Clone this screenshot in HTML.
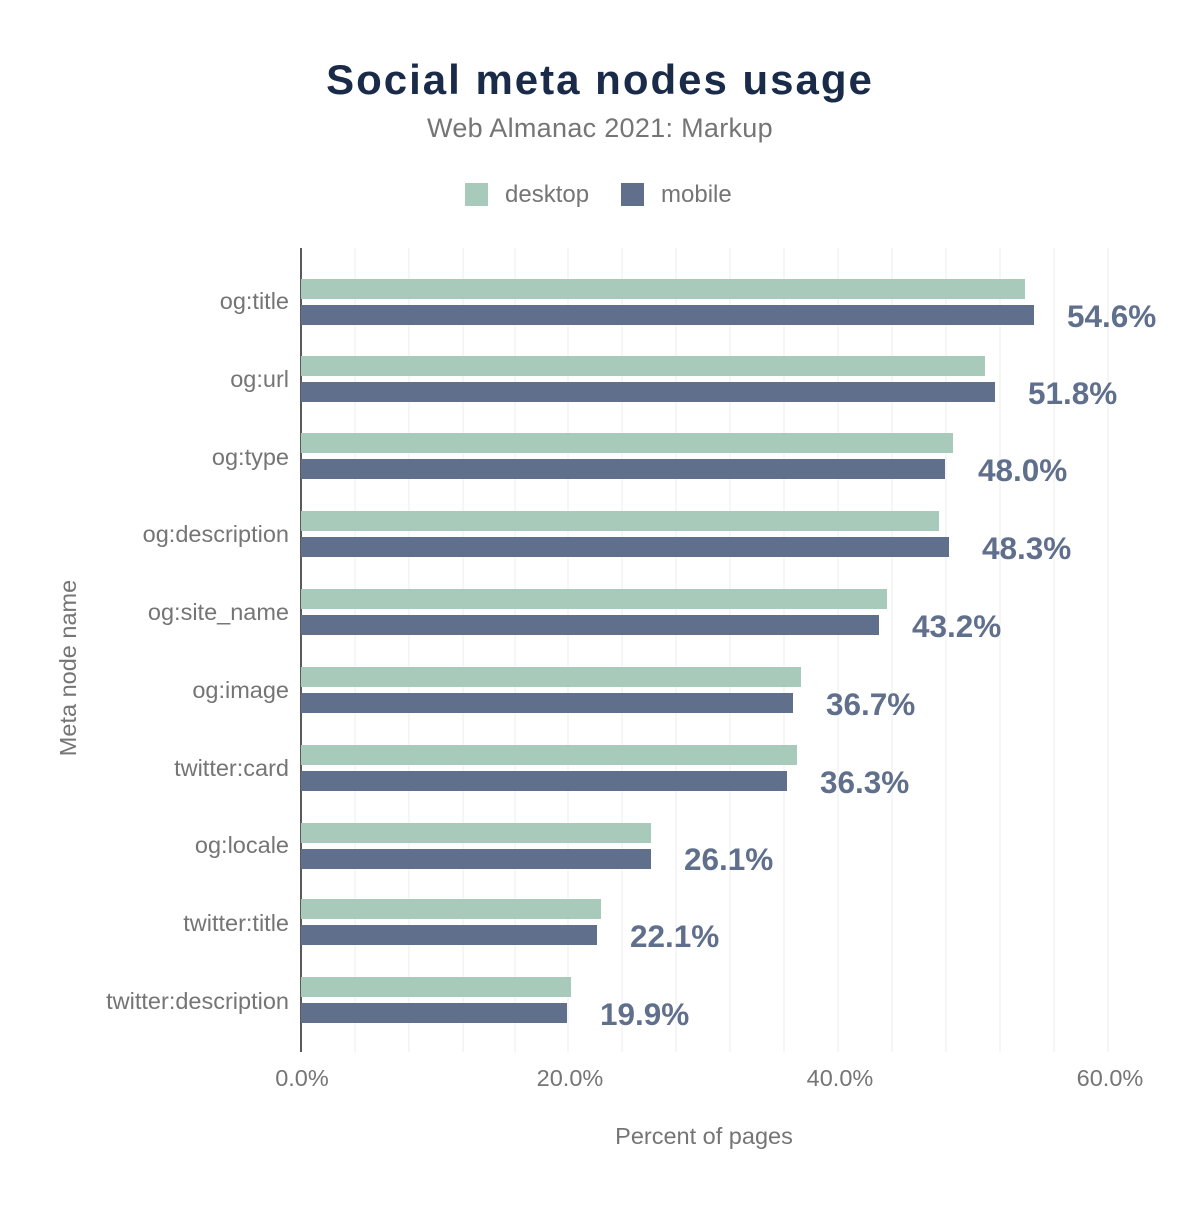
<!DOCTYPE html>
<html><head><meta charset="utf-8"><style>body{margin:0;background:#fff}svg{display:block;font-family:"Liberation Sans",Arial,sans-serif}</style></head><body>
<svg width="1200" height="1208" viewBox="0 0 1200 1208" xmlns="http://www.w3.org/2000/svg">
<rect width="1200" height="1208" fill="#fff"/>
<text x="600" y="94" text-anchor="middle" font-size="42" font-weight="bold" letter-spacing="2" fill="#1a2b49">Social meta nodes usage</text>
<text x="600" y="137" text-anchor="middle" font-size="27" letter-spacing="0.3" fill="#757575">Web Almanac 2021: Markup</text>
<rect x="465" y="183" width="23" height="23" fill="#a8cabb"/>
<text x="505" y="202" font-size="24" fill="#757575">desktop</text>
<rect x="621" y="183" width="23" height="23" fill="#5f6f8c"/>
<text x="661" y="202" font-size="24" fill="#757575">mobile</text>
<g stroke="#ececec" stroke-width="1">
<line x1="355" y1="248" x2="355" y2="1052"/><line x1="409" y1="248" x2="409" y2="1052"/><line x1="463" y1="248" x2="463" y2="1052"/><line x1="515" y1="248" x2="515" y2="1052"/><line x1="568" y1="248" x2="568" y2="1052"/><line x1="622" y1="248" x2="622" y2="1052"/><line x1="676" y1="248" x2="676" y2="1052"/><line x1="730" y1="248" x2="730" y2="1052"/><line x1="784" y1="248" x2="784" y2="1052"/><line x1="838" y1="248" x2="838" y2="1052"/><line x1="892" y1="248" x2="892" y2="1052"/><line x1="946" y1="248" x2="946" y2="1052"/><line x1="1000" y1="248" x2="1000" y2="1052"/><line x1="1054" y1="248" x2="1054" y2="1052"/><line x1="1108" y1="248" x2="1108" y2="1052"/>
</g>
<line x1="301" y1="248" x2="301" y2="1052" stroke="#222" stroke-width="1.5"/>
<g font-size="23.5" fill="#757575" text-anchor="end">
<text x="289" y="309">og:title</text><text x="289" y="387">og:url</text><text x="289" y="465">og:type</text><text x="289" y="542">og:description</text><text x="289" y="620">og:site_name</text><text x="289" y="698">og:image</text><text x="289" y="776">twitter:card</text><text x="289" y="853">og:locale</text><text x="289" y="931">twitter:title</text><text x="289" y="1009">twitter:description</text>
</g>
<g fill="#a8cabb">
<rect x="301" y="279" width="724" height="20"/><rect x="301" y="356" width="684" height="20"/><rect x="301" y="433" width="652" height="20"/><rect x="301" y="511" width="638" height="20"/><rect x="301" y="589" width="586" height="20"/><rect x="301" y="667" width="500" height="20"/><rect x="301" y="745" width="496" height="20"/><rect x="301" y="823" width="350" height="20"/><rect x="301" y="899" width="300" height="20"/><rect x="301" y="977" width="270" height="20"/>
</g>
<g fill="#5f6f8c">
<rect x="301" y="305" width="733" height="20"/><rect x="301" y="382" width="694" height="20"/><rect x="301" y="459" width="644" height="20"/><rect x="301" y="537" width="648" height="20"/><rect x="301" y="615" width="578" height="20"/><rect x="301" y="693" width="492" height="20"/><rect x="301" y="771" width="486" height="20"/><rect x="301" y="849" width="350" height="20"/><rect x="301" y="925" width="296" height="20"/><rect x="301" y="1003" width="266" height="20"/>
</g>
<g font-size="31.5" font-weight="bold" fill="#5f6f8c">
<text x="1067" y="327">54.6%</text><text x="1028" y="404">51.8%</text><text x="978" y="481">48.0%</text><text x="982" y="559">48.3%</text><text x="912" y="637">43.2%</text><text x="826" y="715">36.7%</text><text x="820" y="793">36.3%</text><text x="684" y="870">26.1%</text><text x="630" y="947">22.1%</text><text x="600" y="1025">19.9%</text>
</g>
<g font-size="23.5" fill="#757575" text-anchor="middle">
<text x="302" y="1086">0.0%</text><text x="570" y="1086">20.0%</text><text x="840" y="1086">40.0%</text><text x="1110" y="1086">60.0%</text>
<text x="704" y="1144">Percent of pages</text>
<text transform="translate(76,668) rotate(-90)">Meta node name</text>
</g>
</svg>
</body></html>
